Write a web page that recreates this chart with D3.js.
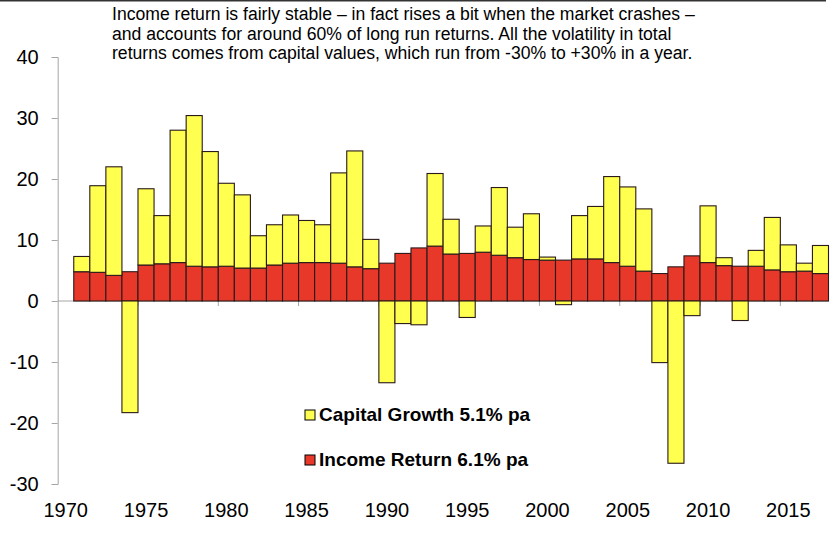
<!DOCTYPE html>
<html>
<head>
<meta charset="utf-8">
<script src="https://cdn.jsdelivr.net/npm/d3@7"></script>
<style>
  body { margin: 0; background: #fff; }
  svg { display: block; font-family: "Liberation Sans", Arial, sans-serif; }
</style>
</head>
<body>
<svg id="chart" width="834" height="534"></svg>
<script>
// years on the category axis (1970 has no data)
const years = d3.range(1970, 2018)

// income return, % per year, 1971..2017
const income = [4.8, 4.7, 4.2, 4.8, 5.9, 6.1, 6.3, 5.7, 5.6, 5.7,
  5.4, 5.4, 5.9, 6.2, 6.3, 6.3, 6.2, 5.6, 5.3, 6.2,
  7.8, 8.7, 9.0, 7.7, 7.8, 8.0, 7.5, 7.1, 6.8, 6.7,
  6.7, 6.9, 6.9, 6.3, 5.7, 4.9, 4.5, 5.6, 7.4, 6.3,
  5.8, 5.7, 5.7, 5.1, 4.8, 4.9, 4.5]

// capital growth, % per year, 1971..2017
const capital = [2.5, 14.2, 17.8, -18.3, 12.5, 7.9, 21.7, 24.7, 18.9, 13.6,
  12.0, 5.3, 6.6, 7.9, 6.9, 6.2, 14.8, 19.0, 4.8, -13.4,
  -3.7, -3.9, 11.9, 5.7, -2.7, 4.3, 11.1, 5.0, 7.5, 0.5,
  -0.6, 7.1, 8.6, 14.1, 13.0, 10.2, -10.1, -26.6, -2.4, 9.3,
  1.3, -3.2, 2.6, 8.6, 4.4, 1.3, 4.6]

const yTicks = [-30, -20, -10, 0, 10, 20, 30, 40]
const yearLabels = [1970, 1975, 1980, 1985, 1990, 1995, 2000, 2005, 2010, 2015]

const legendItems = ["Capital Growth 5.1% pa", "Income Return 6.1% pa"]
const noteLines = [
  "Income return is fairly stable \u2013 in fact rises a bit when the market crashes \u2013",
  "and accounts for around 60% of long run returns. All the volatility in total",
  "returns comes from capital values, which run from -30% to +30% in a year."
]

const yellow = "#ffff4f"
const red = "#e8382a"
const axisGrey = "#a6a6a6"

const svg = d3.select("#chart")

// build rows from the arrays
const rows = income.map((inc, i) => ({ year: 1971 + i, income: inc, capital: capital[i] }))

const x = d3.scaleBand().domain(years).range([57.7, 828.5]).padding(0)
const y = d3.scaleLinear().domain([-30, 40]).range([484, 57])

// top rule
svg.append("line")
  .attr("x1", 0).attr("x2", 826).attr("y1", 0.75).attr("y2", 0.75)
  .attr("stroke", "#333").attr("stroke-width", 1.5)

// y axis (plain hyphen for negatives, like the original)
const yAxis = svg.append("g").attr("transform", `translate(${x.range()[0]},0)`)
  .call(d3.axisLeft(y).tickValues(yTicks).tickSize(6).tickPadding(13).tickFormat(d => String(d)))
yAxis.select(".domain").attr("stroke", axisGrey)
yAxis.selectAll(".tick line").attr("stroke", axisGrey)
yAxis.selectAll(".tick text")
  .attr("fill", "#000").style("font-size", "20px")
  .style("font-family", "'Liberation Sans', Arial, sans-serif")

// zero line + ticks between categories
svg.append("line")
  .attr("x1", x.range()[0]).attr("x2", x.range()[1])
  .attr("y1", y(0)).attr("y2", y(0))
  .attr("stroke", axisGrey)

svg.append("g").selectAll("line")
  .data(yearLabels.filter(d => d > 1970))
  .join("line")
  .attr("x1", d => x(d)).attr("x2", d => x(d))
  .attr("y1", y(0)).attr("y2", y(0) + 5)
  .attr("stroke", axisGrey)

// income bars (red) from zero up
svg.append("g").selectAll("rect")
  .data(rows)
  .join("rect")
  .attr("x", d => x(d.year))
  .attr("width", x.bandwidth())
  .attr("y", d => y(d.income))
  .attr("height", d => y(0) - y(d.income))
  .attr("fill", red)
  .attr("stroke", "#2a1a1a").attr("stroke-width", 1.1)

// capital bars (yellow): positive stacked on income, negative from zero
svg.append("g").selectAll("rect")
  .data(rows)
  .join("rect")
  .attr("x", d => x(d.year))
  .attr("width", x.bandwidth())
  .attr("y", d => d.capital >= 0 ? y(d.income + d.capital) : y(0))
  .attr("height", d => d.capital >= 0 ? y(d.income) - y(d.income + d.capital) : y(d.capital) - y(0))
  .attr("fill", yellow)
  .attr("stroke", "#2a1a1a").attr("stroke-width", 1.1)

// year labels under the plot
svg.append("g").selectAll("text")
  .data(yearLabels)
  .join("text")
  .attr("x", d => x(d) + x.bandwidth() / 2)
  .attr("y", 517)
  .attr("text-anchor", "middle")
  .style("font-size", "20px")
  .text(d => d)

// legend
const lg = svg.append("g").selectAll("g")
  .data(legendItems)
  .join("g")
  .attr("transform", (d, i) => `translate(305,${410 + i * 45})`)
lg.append("rect")
  .attr("width", 10).attr("height", 10)
  .attr("fill", (d, i) => i === 0 ? yellow : red)
  .attr("stroke", "#000").attr("stroke-width", 1)
lg.append("text")
  .attr("x", 14).attr("y", 11)
  .style("font-size", "19px").style("font-weight", "bold")
  .text(d => d)

// note at top
svg.append("g").selectAll("text")
  .data(noteLines)
  .join("text")
  .attr("x", 112)
  .attr("y", (d, i) => 20 + i * 19.5)
  .style("font-size", "17.6px")
  .text(d => d)
</script>
</body>
</html>
